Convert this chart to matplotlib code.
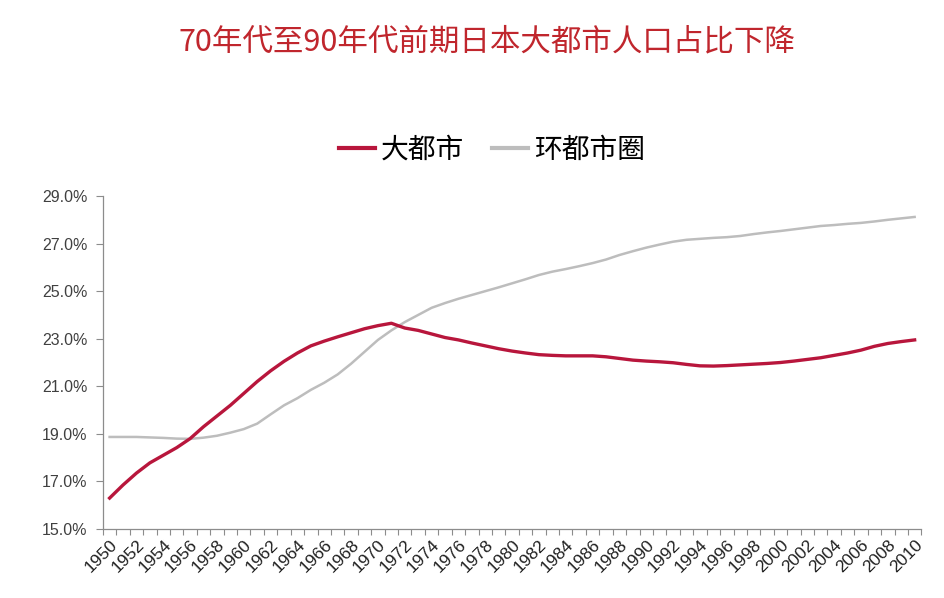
import matplotlib
matplotlib.use("Agg")
import matplotlib.pyplot as plt
from matplotlib.ticker import FixedLocator, FuncFormatter

# --------------
# data (share of population, %)
# --------------

years = list(range(1950, 2011))

metro = [
    16.30, 16.85, 17.35, 17.78, 18.10, 18.42, 18.80, 19.30, 19.75, 20.20,
    20.70, 21.20, 21.65, 22.05, 22.40, 22.70, 22.90, 23.08, 23.25, 23.42,
    23.55, 23.65, 23.45, 23.35, 23.20, 23.05, 22.95, 22.82, 22.70, 22.58,
    22.48, 22.40, 22.33, 22.30, 22.28, 22.28, 22.28, 22.24, 22.17, 22.10,
    22.06, 22.03, 21.99, 21.92, 21.86, 21.85, 21.87, 21.90, 21.93, 21.96,
    22.00, 22.06, 22.13, 22.20, 22.30, 22.40, 22.52, 22.68, 22.80, 22.88,
    22.95,
]

ring = [
    18.87, 18.87, 18.87, 18.85, 18.83, 18.80, 18.79, 18.84, 18.92, 19.05,
    19.20, 19.43, 19.82, 20.20, 20.50, 20.85, 21.15, 21.50, 21.95, 22.45,
    22.95, 23.35, 23.70, 24.00, 24.30, 24.50, 24.68, 24.84, 25.00, 25.16,
    25.33, 25.50, 25.68, 25.82, 25.93, 26.05, 26.18, 26.33, 26.52, 26.68,
    26.83, 26.96, 27.08, 27.16, 27.20, 27.24, 27.27, 27.32, 27.40, 27.47,
    27.53, 27.60, 27.67, 27.74, 27.78, 27.83, 27.87, 27.93, 28.00, 28.06,
    28.12,
]

series_names = ["大都市", "环都市圈"]
title = "70年代至90年代前期日本大都市人口占比下降"
y_ticks = [15, 17, 19, 21, 23, 25, 27, 29]
x_label_years = list(range(1950, 2011, 2))

# --------------
# figure
# --------------

plt.rcParams["font.family"] = ["Liberation Sans", "Noto Sans CJK SC", "DejaVu Sans"]
cjk = ["Noto Sans CJK SC", "DejaVu Sans"]

fig = plt.figure(figsize=(9.44, 5.98), dpi=100)
fig.patch.set_facecolor("white")
ax = fig.add_axes([0.109, 0.1154, 0.867, 0.5568])

ax.plot(years, metro, color="#B8163C", linewidth=2.4, label=series_names[0], zorder=3)
ax.plot(years, ring, color="#BDBDBD", linewidth=1.8, label=series_names[1], zorder=2)

ax.set_xlim(years[0] - 0.5, years[-1] + 0.5)
ax.set_ylim(15, 29)

# y axis
ax.yaxis.set_major_locator(FixedLocator(y_ticks))
ax.yaxis.set_major_formatter(FuncFormatter(lambda v, p: f"{v:.1f}%"))
ax.tick_params(axis="y", direction="out", length=5, width=0.8, color="#8C8C8C",
               labelsize=11.5, labelcolor="#404040", pad=6)

# x axis: labels every 2 years, tick marks on category boundaries
ax.xaxis.set_major_locator(FixedLocator(x_label_years))
ax.xaxis.set_minor_locator(FixedLocator([y - 0.5 for y in years] + [years[-1] + 0.5]))
ax.tick_params(axis="x", which="major", length=0, labelsize=12.5, labelcolor="#202020", pad=6)
ax.tick_params(axis="x", which="minor", direction="out", length=4, width=0.8, color="#8C8C8C")
for lbl in ax.get_xticklabels():
    lbl.set_rotation(45)
    lbl.set_ha("right")
    lbl.set_va("top")
    lbl.set_rotation_mode("anchor")

for side in ["top", "right"]:
    ax.spines[side].set_visible(False)
for side in ["left", "bottom"]:
    ax.spines[side].set_color("#8C8C8C")
    ax.spines[side].set_linewidth(0.9)

# title and legend
fig.text(487 / 944, 1 - 42 / 598, title, ha="center", va="center",
         fontsize=22, color="#C0262D", family=cjk)

leg = fig.legend(loc="center", bbox_to_anchor=(492 / 944, 1 - 150 / 598), ncol=2,
                 frameon=False, prop={"family": cjk, "size": 20},
                 handlelength=1.3, handletextpad=0.2, columnspacing=1.0)
for line in leg.get_lines():
    line.set_linewidth(3)

fig.savefig("out.png", dpi=100, facecolor="white")
